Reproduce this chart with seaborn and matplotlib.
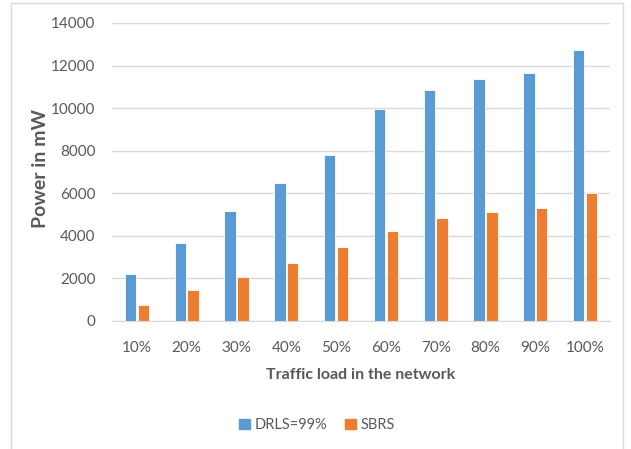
import pandas as pd
import matplotlib
matplotlib.use("Agg")
import matplotlib.pyplot as plt
import seaborn as sns
from matplotlib.patches import Rectangle, Patch

# data
loads = ["10%", "20%", "30%", "40%", "50%", "60%", "70%", "80%", "90%", "100%"]
drls = [2210, 3650, 5180, 6460, 7800, 9960, 10870, 11380, 11650, 12720]
sbrs = [740, 1450, 2070, 2730, 3470, 4230, 4830, 5130, 5320, 5990]
series_names = ["DRLS=99%", "SBRS"]
yticks = [0, 2000, 4000, 6000, 8000, 10000, 12000, 14000]

blue = "#5B9BD5"
orange = "#ED7D31"
grey_text = "#595959"
grid_col = "#D9D9D9"

df = pd.DataFrame({
    "load": loads * 2,
    "power": drls + sbrs,
    "series": [series_names[0]] * len(loads) + [series_names[1]] * len(loads),
})

sns.set_style("white")
plt.rcParams["font.family"] = ["Lato", "DejaVu Sans"]

W, H = 631, 449
fig = plt.figure(figsize=(W / 100, H / 100), dpi=100)
ax = fig.add_axes([112 / W, 1 - 321 / H, 498 / W, 298 / H])

sns.barplot(data=df, x="load", y="power", hue="series",
            palette=[blue, orange], saturation=1, width=0.52, gap=0.12,
            edgecolor="white", linewidth=0.6, ax=ax, legend=False)

ax.set_ylim(0, 14000)
ax.set_yticks(yticks)
ax.set_yticklabels([str(t) for t in yticks])
ax.yaxis.grid(True, color=grid_col, linewidth=1)
ax.set_axisbelow(True)
for side in ["top", "right", "left"]:
    ax.spines[side].set_visible(False)
ax.spines["bottom"].set_color(grid_col)
ax.tick_params(axis="both", length=0, labelsize=11, labelcolor=grey_text)
ax.tick_params(axis="y", pad=12)
ax.tick_params(axis="x", pad=14.5)

ax.set_xlabel("Traffic load in the network", fontsize=11.5, color=grey_text,
              fontweight="bold", va="center")
ax.xaxis.set_label_coords(0.5, (321 - 375) / 298)
ax.set_ylabel("Power in mW", fontsize=14, color=grey_text,
              fontweight="bold", va="center")
ax.yaxis.set_label_coords((40 - 112) / 498, (321 - 168) / 298)

# legend below the plot, centred on the chart area
handles = [Patch(color=blue), Patch(color=orange)]
fig.legend(handles, series_names, loc="center",
           bbox_to_anchor=(317 / W, 1 - 425 / H), ncol=2, frameon=False,
           handlelength=0.75, handleheight=0.75, handletextpad=0.35,
           columnspacing=1.2, prop={"size": 10.5},
           labelcolor=grey_text)

# light chart border
fig.add_artist(Rectangle((11 / W, -0.05), (623 - 11) / W, 1.05 - 3 / H,
                         transform=fig.transFigure, fill=False,
                         edgecolor=grid_col, linewidth=1))

fig.savefig("out.png", dpi=100)
